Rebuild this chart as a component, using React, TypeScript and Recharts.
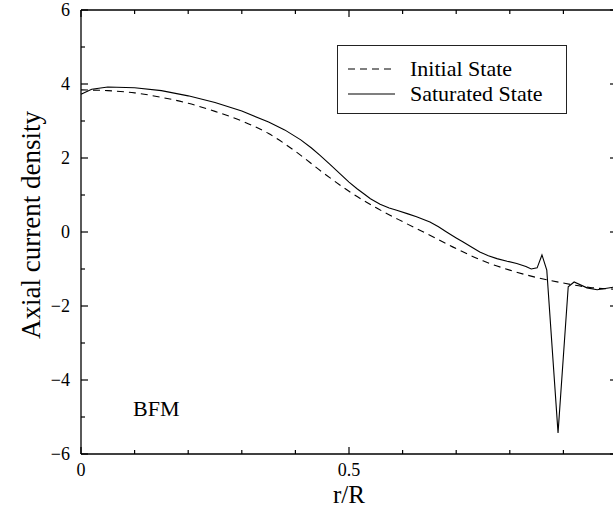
import { Legend, Line, LineChart, ReferenceDot, ReferenceLine, XAxis, YAxis } from "recharts"

// r/R sampling and values
const rInitial = [0, 0.05, 0.1, 0.15, 0.2, 0.25, 0.3, 0.35, 0.4, 0.45, 0.5, 0.55, 0.6, 0.65, 0.7, 0.75, 0.8, 0.85, 0.9, 0.95, 1]
const initialState = [3.84, 3.82, 3.76, 3.64, 3.48, 3.26, 3.0, 2.66, 2.18, 1.62, 1.1, 0.66, 0.28, -0.08, -0.45, -0.78, -1.03, -1.23, -1.38, -1.5, -1.55]

const rSaturated = [
  0, 0.02, 0.05, 0.1, 0.15, 0.2, 0.25, 0.3, 0.35, 0.38, 0.41, 0.43, 0.446, 0.465, 0.485, 0.5, 0.515, 0.527, 0.54, 0.558,
  0.575, 0.589, 0.61, 0.626, 0.651, 0.667, 0.682, 0.7, 0.713, 0.73, 0.744, 0.76, 0.776, 0.795, 0.813, 0.83, 0.84, 0.851,
  0.86, 0.869, 0.89, 0.909, 0.92, 0.944, 0.963, 0.99, 1,
]
const saturatedState = [
  3.72, 3.86, 3.92, 3.9, 3.82, 3.68, 3.5, 3.27, 2.97, 2.76, 2.49, 2.27, 2.07, 1.82, 1.55, 1.35, 1.17, 1.04, 0.9, 0.75,
  0.65, 0.59, 0.49, 0.41, 0.27, 0.14, 0.0, -0.16, -0.27, -0.42, -0.54, -0.64, -0.72, -0.79, -0.85, -0.93, -1.0, -0.97,
  -0.62, -1.03, -5.43, -1.48, -1.35, -1.51, -1.56, -1.5, -1.48,
]

const xTicks = [0, 0.1, 0.2, 0.3, 0.4, 0.5, 0.6, 0.7, 0.8, 0.9, 1]
const xTickLabels = ["0", "", "", "", "", "0.5", "", "", "", "", ""]
const yTicks = [-6, -5, -4, -3, -2, -1, 0, 1, 2, 3, 4, 5, 6]
const yTickLabels = ["\u22126", "", "\u22124", "", "\u22122", "", "0", "", "2", "", "4", "", "6"]

const seriesNames = ["Initial State", "Saturated State"]
const seriesDash = ["7 5", undefined]

const SERIF = "'Liberation Serif', 'DejaVu Serif', serif"
const PLOT = { left: 81, right: 617, top: 10, bottom: 454 }

const initialData = rInitial.map((r, i) => ({ r, j: initialState[i] }))
const saturatedData = rSaturated.map((r, i) => ({ r, j: saturatedState[i] }))

function XTick(props: any) {
  const { x, y, index } = props
  const len = index % 5 === 0 ? 7 : 4
  return (
    <g>
      <line x1={x} x2={x} y1={y} y2={y - len} stroke="#000" strokeWidth={1.2} />
      <line x1={x} x2={x} y1={PLOT.top} y2={PLOT.top + len} stroke="#000" strokeWidth={1.2} />
      <text x={x} y={y + 22} textAnchor="middle" style={{ fontFamily: SERIF }} fontSize={18} fill="#000">
        {xTickLabels[index]}
      </text>
    </g>
  )
}

function YTick(props: any) {
  const { x, y, index } = props
  const len = index % 2 === 0 ? 7 : 4
  return (
    <g>
      <line x1={x} x2={x + len} y1={y} y2={y} stroke="#000" strokeWidth={1.2} />
      <line x1={PLOT.right - len} x2={PLOT.right} y1={y} y2={y} stroke="#000" strokeWidth={1.2} />
      <text x={x - 11} y={y} dy="0.35em" textAnchor="end" style={{ fontFamily: SERIF }} fontSize={18} fill="#000">
        {yTickLabels[index]}
      </text>
    </g>
  )
}

function LegendBox() {
  return (
    <div
      style={{
        boxSizing: "border-box",
        width: 230,
        height: 69,
        border: "1px solid #222",
        paddingTop: 10,
        fontFamily: SERIF,
        fontSize: 22,
        color: "#000",
        background: "#fff",
      }}
    >
      {seriesNames.map((name, i) => (
        <div key={name} style={{ display: "flex", alignItems: "center", height: 25, lineHeight: "25px" }}>
          <svg width={47} height={10} style={{ marginLeft: 10, marginRight: 15 }}>
            <line x1={0} x2={47} y1={5} y2={5} stroke="#000" strokeWidth={1.1} strokeDasharray={seriesDash[i]} />
          </svg>
          <span>{name}</span>
        </div>
      ))}
    </div>
  )
}

export default function App() {
  return (
    <div style={{ position: "absolute", left: 0, top: 0, width: 613, height: 508, overflow: "hidden", background: "#fff" }}>
      <LineChart width={620} height={508} margin={{ top: 10, right: 3, bottom: 0, left: 0 }}>
        <XAxis
          dataKey="r"
          type="number"
          domain={[0, 1]}
          ticks={xTicks}
          interval={0}
          height={54}
          tickSize={0}
          tickMargin={0}
          tick={<XTick />}
          axisLine={{ stroke: "#000", strokeWidth: 1.3 }}
          label={{
            content: () => (
              <text x={349} y={503} textAnchor="middle" style={{ fontFamily: SERIF }} fontSize={25} fill="#000">
                r/R
              </text>
            ),
          }}
        />
        <YAxis
          type="number"
          domain={[-6, 6]}
          ticks={yTicks}
          interval={0}
          width={81}
          tickSize={0}
          tickMargin={0}
          tick={<YTick />}
          axisLine={{ stroke: "#000", strokeWidth: 1.3 }}
          label={{
            content: () => (
              <text
                x={40}
                y={225}
                transform="rotate(-90, 40, 225)"
                textAnchor="middle"
                style={{ fontFamily: SERIF }}
                fontSize={27}
                fill="#000"
              >
                Axial current density
              </text>
            ),
          }}
        />
        <ReferenceLine y={6} stroke="#000" strokeWidth={1.3} />
        <ReferenceLine x={1} stroke="#000" strokeWidth={1.3} />
        <ReferenceDot
          x={0.097}
          y={-4.97}
          r={0}
          shape={(p: any) => (
            <text x={p.cx} y={p.cy} style={{ fontFamily: SERIF }} fontSize={22} fill="#000">
              BFM
            </text>
          )}
        />
        <Line
          data={initialData}
          dataKey="j"
          name={seriesNames[0]}
          type="monotone"
          stroke="#000"
          strokeWidth={1.1}
          strokeDasharray={seriesDash[0]}
          dot={false}
          activeDot={false}
          isAnimationActive={false}
        />
        <Line
          data={saturatedData}
          dataKey="j"
          name={seriesNames[1]}
          type="linear"
          stroke="#000"
          strokeWidth={1.1}
          dot={false}
          activeDot={false}
          isAnimationActive={false}
        />
        <Legend
          layout="vertical"
          align="center"
          verticalAlign="middle"
          wrapperStyle={{ left: 337, top: 45, width: 230 }}
          content={() => <LegendBox />}
        />
      </LineChart>
    </div>
  )
}
